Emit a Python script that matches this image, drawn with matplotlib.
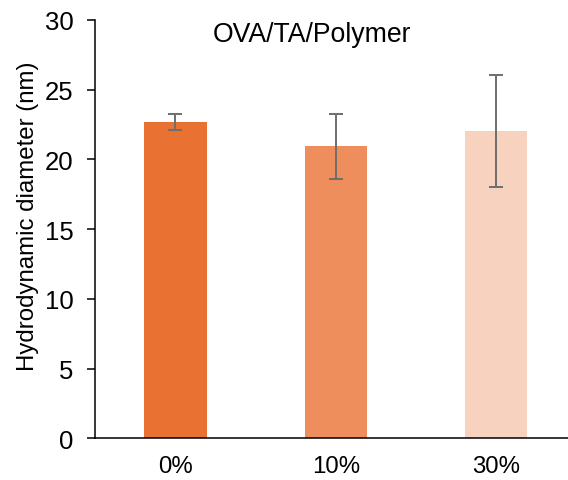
import matplotlib.pyplot as plt
import numpy as np

plt.rcParams['font.family'] = ['Liberation Sans', 'DejaVu Sans']

# polymer content and measured size
groups = ["0%", "10%", "30%"]
diameter = [22.7, 20.95, 22.05]
sd = [0.58, 2.33, 4.02]
colors = ["#E97132", "#EE8E5D", "#F7D3BF"]

fig = plt.figure(figsize=(5.68, 4.81), dpi=100)
# right edge runs a little past the canvas, like the original export
ax = fig.add_axes([0.1678, 0.0867, 0.847, 0.8697])

x = np.arange(len(groups))
ax.bar(x, diameter, width=0.387, color=colors, zorder=2)
ax.errorbar(x, diameter, yerr=sd, fmt="none", ecolor="#6E6E6E",
            elinewidth=1.4, capsize=5, capthick=1.4, zorder=3)

ax.set_xlim(-0.5, 2.5)
ax.set_ylim(0, 30)
ax.set_yticks(np.arange(0, 31, 5))
ax.set_xticks(x)
ax.set_xticklabels(groups)

ax.spines["top"].set_visible(False)
ax.spines["right"].set_visible(False)
for s in ("left", "bottom"):
    ax.spines[s].set_linewidth(1.1)
ax.tick_params(axis="y", direction="out", length=5.5, width=1.1, pad=10, labelsize=18.5)
ax.tick_params(axis="x", length=0, pad=12, labelsize=17.3)

ax.set_ylabel("Hydrodynamic diameter (nm)", fontsize=17.3)
ax.yaxis.set_label_coords(-0.117, 0.534)
ax.text(0.85, 29.0, "OVA/TA/Polymer", fontsize=19.2, ha="center", va="center")

fig.savefig("out.png", dpi=100)
